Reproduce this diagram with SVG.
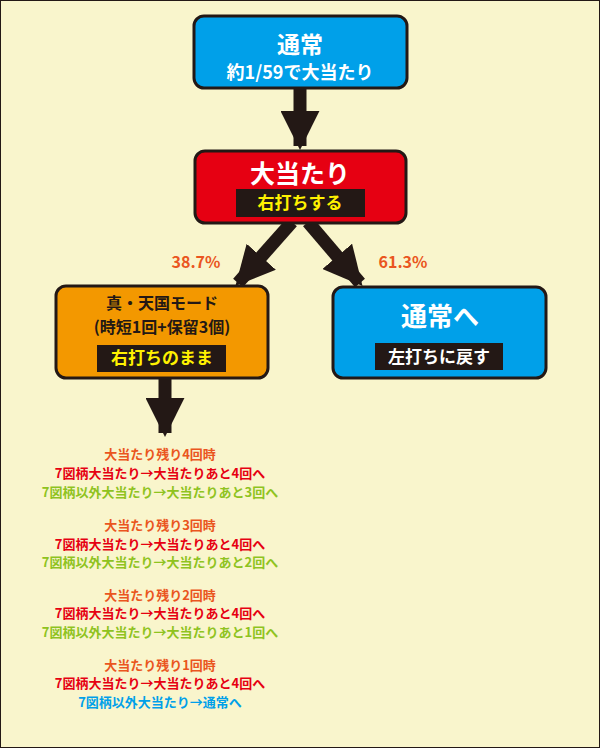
<svg xmlns="http://www.w3.org/2000/svg" width="600" height="748" viewBox="0 0 600 748">
<defs>
<style>
text{font-family:"Noto Sans CJK JP","Noto Sans",sans-serif;font-weight:bold;text-anchor:middle}
.box{stroke:#231815;stroke-width:3}
.lab{fill:#231815}
.o{fill:#ea5520}.r{fill:#e60012}.g{fill:#8fc31f}.b{fill:#00a0e9}
.l{font-size:13px}
</style>
<marker id="ah" viewBox="0 0 10 10" refX="9" refY="5" markerWidth="3" markerHeight="3" orient="auto" markerUnits="strokeWidth"><path d="M0,0L10,5L0,10z" fill="#231815"/></marker>
</defs>
<rect width="600" height="748" fill="#f9f5cc"/>
<rect x="0.5" y="0.5" width="599" height="747" fill="none" stroke="#231815" stroke-width="1"/>
<g id="connectors" stroke="#231815" stroke-width="13" fill="none" marker-end="url(#ah)">
<line x1="300" y1="88" x2="300" y2="146"/>
<line x1="292" y1="222" x2="238" y2="283"/>
<line x1="308" y1="222" x2="360" y2="283"/>
<line x1="165" y1="378" x2="165" y2="433"/>
</g>
<g id="normal">
<rect class="box" x="194" y="16" width="213" height="72" rx="10" fill="#00a0e9"/>
<text x="300" y="53" font-size="23" fill="#fff">通常</text>
<text x="300" y="79" font-size="18" fill="#fff">約1/59で大当たり</text>
</g>
<g id="bonus">
<rect class="box" x="195" y="151" width="211" height="72" rx="10" fill="#e60012"/>
<text x="300" y="183" font-size="25" fill="#fff">大当たり</text>
<rect class="lab" x="236" y="189" width="129" height="28"/>
<text x="300" y="209" font-size="17" fill="#fff100">右打ちする</text>
</g>
<g id="pct">
<text x="196" y="268" font-size="16" class="o">38.7%</text>
<text x="403" y="268" font-size="16" class="o">61.3%</text>
</g>
<g id="tengoku">
<rect class="box" x="56" y="286" width="212" height="92" rx="10" fill="#f39800"/>
<text x="162" y="309" font-size="16" fill="#231815">真・天国モード</text>
<text x="162" y="333" font-size="16" fill="#231815">(時短1回+保留3個)</text>
<rect class="lab" x="97" y="345" width="129" height="27"/>
<text x="162" y="364" font-size="17" fill="#fff100">右打ちのまま</text>
</g>
<g id="tonormal">
<rect class="box" x="333" y="287" width="213" height="91" rx="10" fill="#00a0e9"/>
<text x="440" y="326" font-size="26" fill="#fff">通常へ</text>
<rect class="lab" x="375" y="343" width="128" height="27"/>
<text x="439" y="363" font-size="17" fill="#fff">左打ちに戻す</text>
</g>
<g id="notes" class="l">
<text x="160" y="459" class="o">大当たり残り4回時</text>
<text x="160" y="478" class="r">7図柄大当たり→大当たりあと4回へ</text>
<text x="160" y="497" class="g">7図柄以外大当たり→大当たりあと3回へ</text>
<text x="160" y="530" class="o">大当たり残り3回時</text>
<text x="160" y="549" class="r">7図柄大当たり→大当たりあと4回へ</text>
<text x="160" y="567" class="g">7図柄以外大当たり→大当たりあと2回へ</text>
<text x="160" y="600" class="o">大当たり残り2回時</text>
<text x="160" y="618" class="r">7図柄大当たり→大当たりあと4回へ</text>
<text x="160" y="637" class="g">7図柄以外大当たり→大当たりあと1回へ</text>
<text x="160" y="670" class="o">大当たり残り1回時</text>
<text x="160" y="688" class="r">7図柄大当たり→大当たりあと4回へ</text>
<text x="160" y="707" class="b">7図柄以外大当たり→通常へ</text>
</g>
</svg>
